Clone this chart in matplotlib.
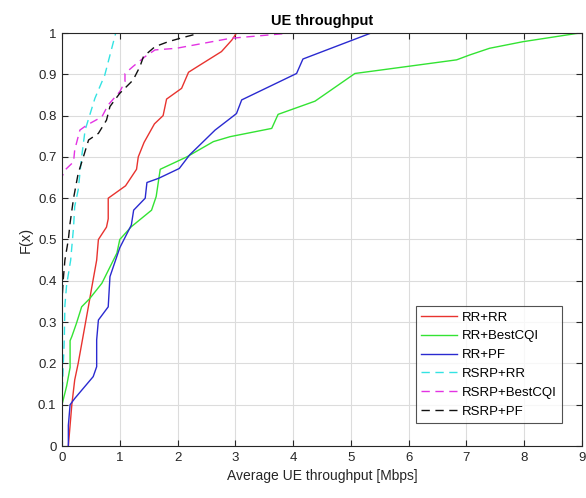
import matplotlib
matplotlib.use("Agg")
import matplotlib.pyplot as plt

plt.rcParams['font.family'] = ['Liberation Sans', 'DejaVu Sans']

# Data (CDF curves)
rr_rr_x = [0.11, 0.14, 0.17, 0.22, 0.28, 0.37, 0.46, 0.51, 0.60, 0.63, 0.77, 0.80, 0.80, 1.10, 1.29, 1.32, 1.42, 1.60, 1.75, 1.81, 2.07, 2.19, 2.36, 2.76, 2.94, 3.02]
rr_rr_y = [0.0, 0.05, 0.10, 0.16, 0.20, 0.27, 0.34, 0.38, 0.45, 0.50, 0.53, 0.55, 0.60, 0.63, 0.67, 0.70, 0.735, 0.78, 0.80, 0.84, 0.866, 0.905, 0.92, 0.955, 0.983, 1.0]

rr_best_x = [0.0, 0.0, 0.08, 0.14, 0.14, 0.17, 0.25, 0.34, 0.48, 0.69, 0.95, 1.0, 1.20, 1.55, 1.63, 1.70, 2.16, 2.62, 2.91, 3.63, 3.74, 4.38, 5.07, 5.50, 6.83, 7.06, 7.40, 7.98, 8.96]
rr_best_y = [0.0, 0.10, 0.145, 0.19, 0.255, 0.265, 0.297, 0.337, 0.357, 0.394, 0.467, 0.50, 0.531, 0.571, 0.604, 0.67, 0.70, 0.737, 0.749, 0.769, 0.803, 0.835, 0.902, 0.910, 0.935, 0.947, 0.963, 0.979, 1.0]

rr_pf_x = [0.11, 0.11, 0.14, 0.22, 0.54, 0.60, 0.60, 0.63, 0.80, 0.83, 1.0, 1.2, 1.24, 1.44, 1.47, 1.67, 2.03, 2.21, 2.65, 2.91, 3.02, 3.11, 4.06, 4.17, 5.35]
rr_pf_y = [0.0, 0.05, 0.10, 0.115, 0.168, 0.192, 0.257, 0.305, 0.337, 0.41, 0.48, 0.535, 0.571, 0.60, 0.638, 0.648, 0.672, 0.705, 0.765, 0.793, 0.805, 0.838, 0.902, 0.937, 1.0]

rsrp_rr_x = [0.0, 0.0, 0.02, 0.04, 0.05, 0.08, 0.15, 0.20, 0.22, 0.28, 0.34, 0.40, 0.57, 0.74, 0.93]
rsrp_rr_y = [0.0, 0.10, 0.19, 0.26, 0.34, 0.39, 0.45, 0.53, 0.58, 0.62, 0.70, 0.765, 0.842, 0.898, 1.0]

rsrp_best_x = [0.0, 0.0, 0.05, 0.20, 0.22, 0.31, 0.43, 0.69, 0.80, 1.0, 1.09, 1.09, 1.23, 1.44, 1.61, 1.98, 2.91, 3.97]
rsrp_best_y = [0.0, 0.652, 0.668, 0.688, 0.717, 0.765, 0.777, 0.797, 0.826, 0.858, 0.882, 0.902, 0.919, 0.943, 0.959, 0.963, 0.987, 1.0]

rsrp_pf_x = [0.0, 0.0, 0.02, 0.05, 0.11, 0.14, 0.20, 0.28, 0.37, 0.46, 0.63, 0.77, 0.83, 1.0, 1.23, 1.35, 1.41, 1.61, 1.84, 2.04, 2.39]
rsrp_pf_y = [0.0, 0.35, 0.40, 0.45, 0.50, 0.54, 0.60, 0.66, 0.70, 0.741, 0.757, 0.789, 0.822, 0.854, 0.886, 0.919, 0.943, 0.967, 0.979, 0.987, 1.0]

labels = ['RR+RR', 'RR+BestCQI', 'RR+PF', 'RSRP+RR', 'RSRP+BestCQI', 'RSRP+PF']
x_ticks = [0, 1, 2, 3, 4, 5, 6, 7, 8, 9]
y_ticks = [0, 0.1, 0.2, 0.3, 0.4, 0.5, 0.6, 0.7, 0.8, 0.9, 1]
y_tick_labels = ['0', '0.1', '0.2', '0.3', '0.4', '0.5', '0.6', '0.7', '0.8', '0.9', '1']

fig = plt.figure(figsize=(5.86, 4.98), dpi=100)
ax = fig.add_axes([62/586, 52/498, 520/586, 413/498])

dash = (0, (6, 4))
ax.plot(rr_rr_x, rr_rr_y, color='#e8332f', lw=1.0, label=labels[0])
ax.plot(rr_best_x, rr_best_y, color='#33e333', lw=1.0, label=labels[1])
ax.plot(rr_pf_x, rr_pf_y, color='#2a2ad0', lw=1.0, label=labels[2])
ax.plot(rsrp_rr_x, rsrp_rr_y, color='#33e3e3', lw=1.0, ls=dash, label=labels[3])
ax.plot(rsrp_best_x, rsrp_best_y, color='#e333e3', lw=1.0, ls=dash, label=labels[4])
ax.plot(rsrp_pf_x, rsrp_pf_y, color='#111111', lw=1.0, ls=dash, label=labels[5])

ax.set_xlim(0, 9)
ax.set_ylim(0, 1)
ax.set_xticks(x_ticks)
ax.set_yticks(y_ticks)
ax.set_yticklabels(y_tick_labels)
ax.grid(True, color='#dcdcdc', lw=0.8)
ax.set_axisbelow(True)
ax.tick_params(direction='in', top=True, right=True, length=4, width=0.8,
               labelsize=9.5, colors='#262626', pad=4)
for s in ax.spines.values():
    s.set_color('#262626')
    s.set_linewidth(0.8)

ax.set_title('UE throughput', fontsize=10.5, fontweight='bold', pad=6)
ax.set_xlabel('Average UE throughput [Mbps]', fontsize=10, color='#262626')
ax.set_ylabel('F(x)', fontsize=10.5, color='#262626')

leg = ax.legend(loc='upper left', bbox_to_anchor=(0.681, 0.339), fontsize=9.5,
                frameon=True, fancybox=False, edgecolor='#262626',
                handlelength=2.7, labelspacing=0.5, borderpad=0.4,
                handletextpad=0.4, borderaxespad=0)
leg.get_frame().set_linewidth(0.8)

fig.savefig('out.png', dpi=100)
